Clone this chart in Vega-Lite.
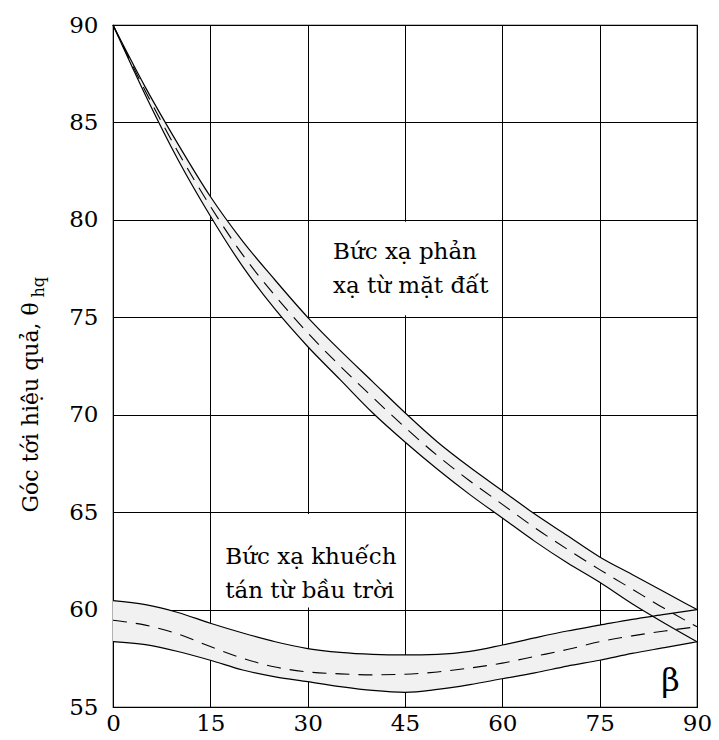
{
  "$schema": "https://vega.github.io/schema/vega-lite/v6.json",
  "autosize": {"type": "none"},
  "padding": {"left": 113, "top": 25, "right": 22, "bottom": 33},
  "width": 584,
  "height": 682,
  "background": "white",
  "config": {
    "view": {"stroke": "#000", "strokeWidth": 1.2},
    "font": "DejaVu Serif",
    "axis": {"labelFont": "DejaVu Serif", "titleFont": "DejaVu Serif", "labelColor": "#000", "titleColor": "#000", "titleFontWeight": "normal"}
  },
  "datasets": {
    "curves": [
      {"fam": "ground", "beta": 0, "hi": 90, "mid": 90, "lo": 90},
      {"fam": "ground", "beta": 5, "hi": 86.8, "mid": 86.6, "lo": 86.4},
      {"fam": "ground", "beta": 10, "hi": 83.9, "mid": 83.5, "lo": 83.1},
      {"fam": "ground", "beta": 15, "hi": 81.2, "mid": 80.7, "lo": 80.2},
      {"fam": "ground", "beta": 20, "hi": 78.9, "mid": 78.2, "lo": 77.6},
      {"fam": "ground", "beta": 25, "hi": 76.9, "mid": 76.1, "lo": 75.4},
      {"fam": "ground", "beta": 30, "hi": 75.0, "mid": 74.2, "lo": 73.5},
      {"fam": "ground", "beta": 35, "hi": 73.3, "mid": 72.5, "lo": 71.8},
      {"fam": "ground", "beta": 40, "hi": 71.7, "mid": 70.9, "lo": 70.1},
      {"fam": "ground", "beta": 45, "hi": 70.1, "mid": 69.35, "lo": 68.6},
      {"fam": "ground", "beta": 50, "hi": 68.6, "mid": 67.9, "lo": 67.2},
      {"fam": "ground", "beta": 55, "hi": 67.3, "mid": 66.6, "lo": 65.9},
      {"fam": "ground", "beta": 60, "hi": 66.1, "mid": 65.4, "lo": 64.7},
      {"fam": "ground", "beta": 65, "hi": 64.9, "mid": 64.2, "lo": 63.5},
      {"fam": "ground", "beta": 70, "hi": 63.8, "mid": 63.1, "lo": 62.4},
      {"fam": "ground", "beta": 75, "hi": 62.7, "mid": 62.05, "lo": 61.4},
      {"fam": "ground", "beta": 80, "hi": 61.8, "mid": 61.05, "lo": 60.3},
      {"fam": "ground", "beta": 85, "hi": 60.9, "mid": 60.05, "lo": 59.3},
      {"fam": "ground", "beta": 90, "hi": 60.0, "mid": 59.12, "lo": 58.35},
      {"fam": "sky", "beta": 0, "hi": 60.46, "mid": 59.45, "lo": 58.35},
      {"fam": "sky", "beta": 5, "hi": 60.25, "mid": 59.2, "lo": 58.2},
      {"fam": "sky", "beta": 10, "hi": 59.85, "mid": 58.75, "lo": 57.85},
      {"fam": "sky", "beta": 15, "hi": 59.3, "mid": 58.1, "lo": 57.4},
      {"fam": "sky", "beta": 20, "hi": 58.8, "mid": 57.5, "lo": 56.9},
      {"fam": "sky", "beta": 25, "hi": 58.35, "mid": 57.05, "lo": 56.55},
      {"fam": "sky", "beta": 30, "hi": 58.0, "mid": 56.8, "lo": 56.3},
      {"fam": "sky", "beta": 35, "hi": 57.8, "mid": 56.7, "lo": 56.05},
      {"fam": "sky", "beta": 40, "hi": 57.7, "mid": 56.65, "lo": 55.85},
      {"fam": "sky", "beta": 45, "hi": 57.67, "mid": 56.68, "lo": 55.75},
      {"fam": "sky", "beta": 50, "hi": 57.7, "mid": 56.8, "lo": 55.9},
      {"fam": "sky", "beta": 55, "hi": 57.85, "mid": 57.0, "lo": 56.15},
      {"fam": "sky", "beta": 60, "hi": 58.18, "mid": 57.25, "lo": 56.45},
      {"fam": "sky", "beta": 65, "hi": 58.55, "mid": 57.6, "lo": 56.75},
      {"fam": "sky", "beta": 70, "hi": 58.9, "mid": 57.95, "lo": 57.1},
      {"fam": "sky", "beta": 75, "hi": 59.2, "mid": 58.35, "lo": 57.4},
      {"fam": "sky", "beta": 80, "hi": 59.5, "mid": 58.65, "lo": 57.75},
      {"fam": "sky", "beta": 85, "hi": 59.75, "mid": 58.9, "lo": 58.05},
      {"fam": "sky", "beta": 90, "hi": 60.0, "mid": 59.12, "lo": 58.35}
    ],
    "boxes": [
      {"b1": 30.2, "b2": 56, "t1": 75.1, "t2": 79.9},
      {"b1": 15.15, "b2": 44.85, "t1": 60.1, "t2": 64.9}
    ],
    "labels": [
      {"beta": 33.9, "theta": 78.0, "text": "Bức xạ phản\nxạ từ mặt đất"},
      {"beta": 17.3, "theta": 62.34, "text": "Bức xạ khuếch\ntán từ bầu trời"}
    ]
  },
  "resolve": {"axis": {"y": "independent"}},
  "layer": [
    {
      "data": {"name": "boxes"},
      "mark": {"type": "rect", "fill": "white", "stroke": null},
      "encoding": {
        "x": {"field": "b1", "type": "quantitative", "scale": {"domain": [0, 90], "nice": false, "zero": false},
          "axis": {"values": [0, 15, 30, 45, 60, 75, 90], "title": "β", "titleFontSize": 32, "titleX": 557, "titleY": -17, "titleBaseline": "alphabetic", "titleAlign": "center", "labelFontSize": 23, "labelPadding": 5, "ticks": false, "domain": false, "grid": true, "gridColor": "#000", "gridOpacity": 1, "gridWidth": 1, "labelFlush": false}},
        "x2": {"field": "b2"},
        "y": {"field": "t1", "type": "quantitative", "scale": {"domain": [55, 90], "nice": false, "zero": false},
          "axis": {"orient": "left", "values": [55, 60, 65, 70, 75, 80, 85, 90], "title": "Góc tới hiệu quả, θ", "titleFontSize": 22, "titleAngle": -90, "titleX": -76, "titleY": 487, "titleAlign": "left", "titleBaseline": "alphabetic", "labelFontSize": 23, "labelPadding": 15, "ticks": false, "domain": false, "grid": true, "gridColor": "#000", "gridOpacity": 1, "gridWidth": 1, "labelFlush": false}},
        "y2": {"field": "t2"}
      }
    },
    {
      "data": {"name": "curves"},
      "mark": {"type": "area", "color": "#f1f1f1", "opacity": 1, "interpolate": "monotone"},
      "encoding": {
        "x": {"field": "beta", "type": "quantitative"},
        "y": {"field": "lo", "type": "quantitative",
          "axis": {"orient": "left", "title": "hq", "titleFontSize": 16, "titleAngle": -90, "titleX": -70, "titleY": 272, "titleAlign": "left", "titleBaseline": "alphabetic", "labels": false, "ticks": false, "domain": false, "grid": false}},
        "y2": {"field": "hi"},
        "detail": {"field": "fam"}
      }
    },
    {
      "data": {"name": "curves"},
      "mark": {"type": "line", "color": "#000", "strokeWidth": 1.2, "interpolate": "monotone"},
      "encoding": {
        "x": {"field": "beta", "type": "quantitative"},
        "y": {"field": "hi", "type": "quantitative", "axis": null},
        "detail": {"field": "fam"}
      }
    },
    {
      "data": {"name": "curves"},
      "mark": {"type": "line", "color": "#000", "strokeWidth": 1.2, "interpolate": "monotone"},
      "encoding": {
        "x": {"field": "beta", "type": "quantitative"},
        "y": {"field": "lo", "type": "quantitative", "axis": null},
        "detail": {"field": "fam"}
      }
    },
    {
      "data": {"name": "curves"},
      "mark": {"type": "line", "color": "#000", "strokeWidth": 1.1, "strokeDash": [14, 9], "interpolate": "monotone"},
      "encoding": {
        "x": {"field": "beta", "type": "quantitative"},
        "y": {"field": "mid", "type": "quantitative", "axis": null},
        "detail": {"field": "fam"}
      }
    },
    {
      "data": {"name": "labels"},
      "mark": {"type": "text", "align": "left", "baseline": "alphabetic", "fontSize": 23, "lineHeight": 34, "lineBreak": "\n", "color": "#000", "font": "DejaVu Serif"},
      "encoding": {
        "x": {"field": "beta", "type": "quantitative"},
        "y": {"field": "theta", "type": "quantitative", "axis": null},
        "text": {"field": "text"}
      }
    }
  ]
}
